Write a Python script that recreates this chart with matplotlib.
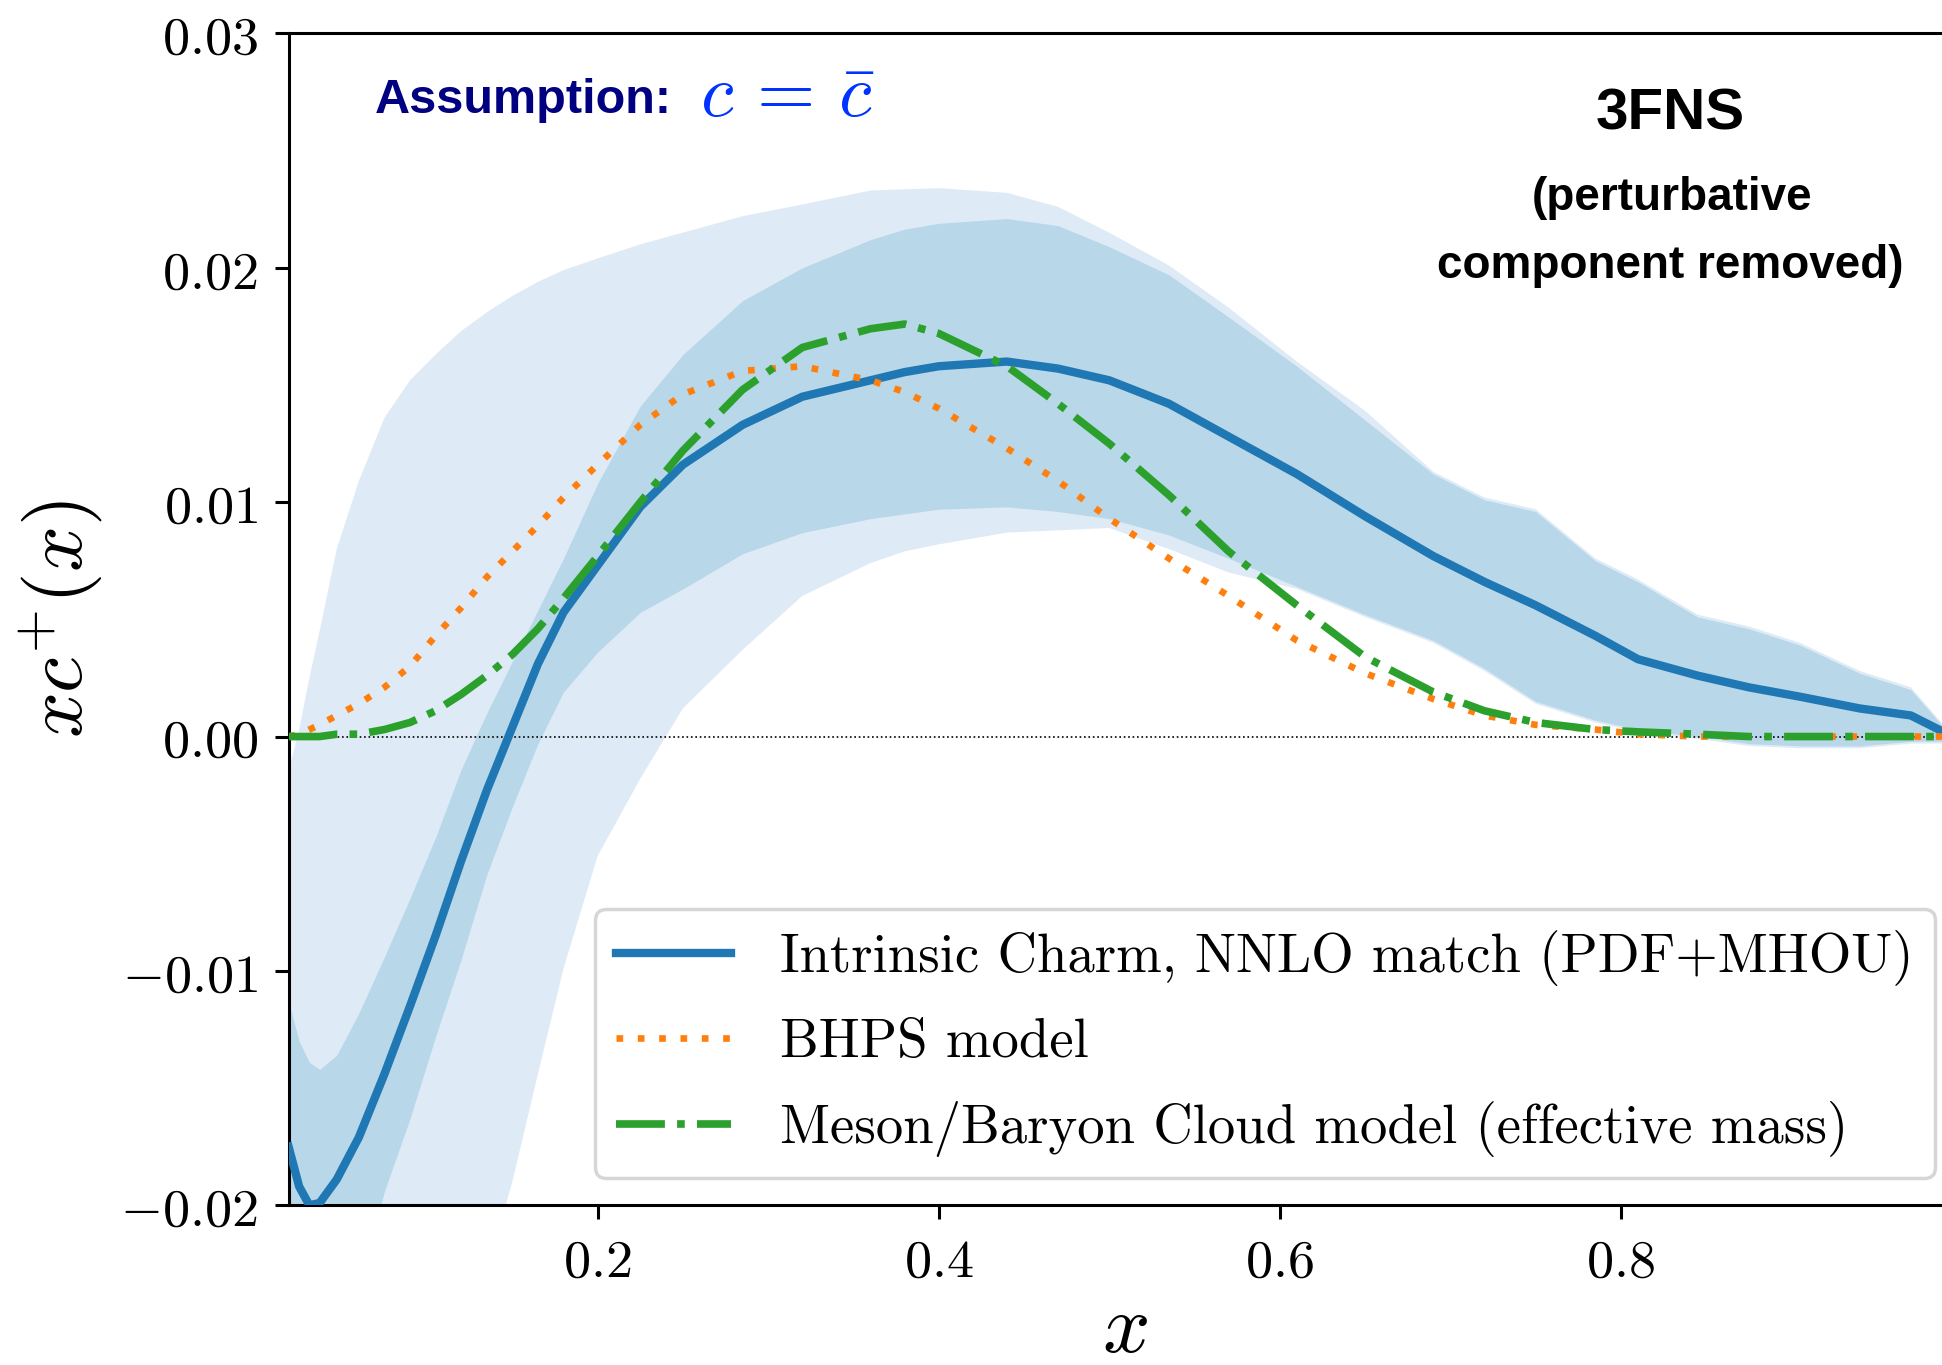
import matplotlib
matplotlib.use("Agg")
import matplotlib.pyplot as plt

plt.rcParams['mathtext.fontset'] = 'cm'

# x grid shared by all curves
x = [0.0188, 0.025, 0.031, 0.037, 0.047, 0.06, 0.075, 0.09, 0.105, 0.12,
     0.135, 0.15, 0.165, 0.18, 0.2, 0.225, 0.25, 0.285, 0.32, 0.36,
     0.38, 0.4, 0.44, 0.47, 0.5, 0.535, 0.57, 0.61, 0.65, 0.69,
     0.72, 0.75, 0.785, 0.81, 0.845, 0.875, 0.905, 0.94, 0.97, 1.0]

# intrinsic charm central value
ic_central = [-0.0175, -0.0192, -0.0200, -0.0199, -0.0189, -0.0171, -0.0144, -0.0115, -0.0085, -0.0053,
              -0.0023, 0.0004, 0.0031, 0.0053, 0.0073, 0.0098, 0.0116, 0.0133, 0.0145, 0.0152,
              0.01555, 0.0158, 0.0160, 0.0157, 0.0152, 0.0142, 0.0128, 0.0112, 0.0094, 0.0077,
              0.0066, 0.0056, 0.0043, 0.0033, 0.0026, 0.0021, 0.0017, 0.0012, 0.0009, -0.0002]

# inner band
ic_inner_up = [-0.0113, -0.0130, -0.0139, -0.0142, -0.0136, -0.0118, -0.0094, -0.0069, -0.0043, -0.0014,
               0.0010, 0.0032, 0.0054, 0.0076, 0.0108, 0.0141, 0.0163, 0.0186, 0.0200, 0.0212,
               0.02165, 0.0219, 0.0221, 0.0218, 0.0209, 0.0197, 0.0179, 0.0158, 0.0135, 0.0112,
               0.0101, 0.0096, 0.0075, 0.0066, 0.0051, 0.0046, 0.0039, 0.0027, 0.0020, -0.0005]
ic_inner_lo = [-0.032, -0.031, -0.030, -0.029, -0.027, -0.0235, -0.0194, -0.0163, -0.0128, -0.0095,
               -0.0059, -0.0030, -0.0003, 0.0019, 0.0036, 0.0053, 0.0063, 0.0078, 0.0087, 0.0093,
               0.0095, 0.0097, 0.0098, 0.0096, 0.0093, 0.0086, 0.0076, 0.0064, 0.0052, 0.0041,
               0.0029, 0.0015, 0.0007, 0.0003, 0.0000, -0.0003, -0.0004, -0.0004, -0.0002, -0.0002]

# outer band
ic_outer_up = [-0.0015, 0.0003, 0.0025, 0.0045, 0.0080, 0.0109, 0.0136, 0.0152, 0.0163, 0.0173,
               0.0181, 0.0188, 0.0194, 0.0199, 0.0204, 0.0210, 0.0215, 0.0222, 0.0227, 0.0233,
               0.02335, 0.0234, 0.0232, 0.0226, 0.0215, 0.0201, 0.0183, 0.0160, 0.0139, 0.0113,
               0.0102, 0.0097, 0.0076, 0.0067, 0.0052, 0.0047, 0.0040, 0.0028, 0.0021, -0.0004]
ic_outer_lo = [-0.045, -0.044, -0.043, -0.042, -0.040, -0.038, -0.035, -0.032, -0.029, -0.026,
               -0.0228, -0.0190, -0.0144, -0.0099, -0.0051, -0.0018, 0.0012, 0.0037, 0.0060, 0.0074,
               0.0079, 0.0082, 0.0087, 0.0088, 0.0089, 0.0080, 0.0070, 0.0063, 0.0051, 0.0040,
               0.0028, 0.0014, 0.0006, 0.0002, -0.0001, -0.0004, -0.0005, -0.0005, -0.0003, -0.0003]

# models
bhps = [0.0, 0.0001, 0.0003, 0.0005, 0.0009, 0.0014, 0.0021, 0.0030, 0.0043, 0.0055,
        0.0068, 0.0079, 0.0090, 0.0102, 0.0116, 0.0133, 0.0146, 0.0156, 0.0158, 0.0152,
        0.0147, 0.0140, 0.0123, 0.0109, 0.0093, 0.0076, 0.0060, 0.0041, 0.0027, 0.0016,
        0.0009, 0.0005, 0.0003, 0.0001, 0.0, 0.0, 0.0, 0.0, 0.0, 0.0]
mbcm = [0.0, 0.0, 0.0, 0.0, 0.0001, 0.0001, 0.0003, 0.0006, 0.0011, 0.0018,
        0.0026, 0.0035, 0.0046, 0.0059, 0.0077, 0.0100, 0.0122, 0.0148, 0.0166, 0.0174,
        0.0176, 0.0172, 0.0158, 0.0142, 0.0125, 0.0103, 0.0079, 0.0056, 0.0034, 0.0019,
        0.0011, 0.0006, 0.0003, 0.0002, 0.0001, 0.0, 0.0, 0.0, 0.0, 0.0]

labels = ["Intrinsic Charm, NNLO match (PDF+MHOU)",
          "BHPS model",
          "Meson/Baryon Cloud model (effective mass)"]

xticks = [0.2, 0.4, 0.6, 0.8]
yticks = [-0.02, -0.01, 0.00, 0.01, 0.02, 0.03]

fig = plt.figure(figsize=(19.42, 13.65), dpi=100)
ax = fig.add_axes([0.1486, 0.1170, 0.8617, 0.8585])

ax.fill_between(x, ic_outer_lo, ic_outer_up, color='#deebf6', lw=0, zorder=1)
ax.fill_between(x, ic_inner_lo, ic_inner_up, color='#b8d7e8', lw=0, zorder=2)
ax.axhline(0, color='black', lw=1.2, ls=':', zorder=3)

ax.plot(x, ic_central, color='#1f77b4', lw=6, label=labels[0], zorder=4)
ax.plot(x, bhps, color='#ff7f0e', lw=4.8, ls=(0, (1, 2.2)), label=labels[1], zorder=5)
ax.plot(x, mbcm, color='#2ca02c', lw=5.5, ls='-.', label=labels[2], zorder=6)

ax.set_xlim(0.0188, 1.0)
ax.set_ylim(-0.02, 0.03)
ax.set_xticks(xticks)
ax.set_xticklabels([f'${t:.1f}$' for t in xticks])
ax.set_yticks(yticks)
ax.set_yticklabels([f'${t:.2f}$' for t in yticks])
ax.tick_params(direction='out', length=10, width=2.2, labelsize=39, pad=12,
               top=False, right=False)
for s in ax.spines.values():
    s.set_linewidth(2.2)

ax.set_xlabel(r'$x$', fontsize=60, va='baseline')
ax.xaxis.set_label_coords(0.5, -0.1255)
ax.set_ylabel(r'$xc^{+}(x)$', fontsize=58)
ax.yaxis.set_label_coords(-0.110, 0.5)

leg = ax.legend(loc='lower right', prop={'family': 'cmr10', 'size': 39.4},
                edgecolor='#cccccc', fancybox=True, labelspacing=0.6,
                handlelength=2.1, handletextpad=0.9, borderpad=0.38)
leg.get_frame().set_linewidth(2.5)

W, H = 1942, 1365
fig.text(375 / W, 1 - 113 / H, 'Assumption:', color='#000080', fontsize=35,
         fontweight='bold', family='Liberation Sans', ha='left', va='baseline')
fig.text(700 / W, 1 - 117 / H, r'$c\,=\,\bar{c}$', color='#0033ff', fontsize=54,
         ha='left', va='baseline')
fig.text(1670 / W, 1 - 130 / H, '3FNS', color='black', fontsize=42,
         fontweight='bold', family='Liberation Sans', ha='center', va='baseline')
fig.text(1672 / W, 1 - 210 / H, '(perturbative', color='black', fontsize=33,
         fontweight='bold', family='Liberation Sans', ha='center', va='baseline')
fig.text(1670 / W, 1 - 278 / H, 'component removed)', color='black', fontsize=33,
         fontweight='bold', family='Liberation Sans', ha='center', va='baseline')

fig.savefig('out.png', dpi=100)
